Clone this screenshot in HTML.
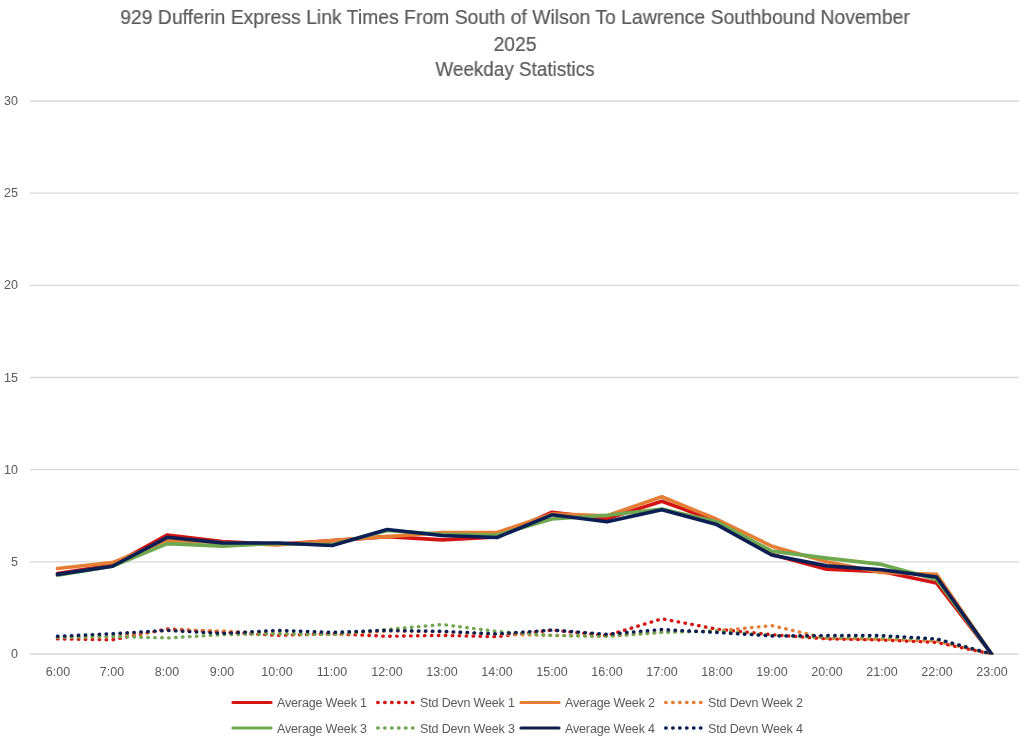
<!DOCTYPE html>
<html><head><meta charset="utf-8"><style>
html,body{margin:0;padding:0;background:#fff;}
body{width:1024px;height:739px;position:relative;overflow:hidden;font-family:"Liberation Sans",sans-serif;color:#595959;}
.t{position:absolute;white-space:nowrap;line-height:1;will-change:transform;}
.title{font-size:20.5px;-webkit-text-stroke:0.2px #595959;left:0;width:1030px;text-align:center;transform-origin:515px 50%;}
.yl{font-size:12.5px;text-align:right;width:18px;left:0;}
.xl{font-size:12.5px;text-align:center;width:60px;}
.lg{font-size:12.5px;letter-spacing:-0.15px;}
</style></head><body>

<svg width="1024" height="739" viewBox="0 0 1024 739" style="position:absolute;left:0;top:0">
<line x1="30.0" y1="654.00" x2="1019.0" y2="654.00" stroke="#D9D9D9" stroke-width="1.3"/>
<line x1="30.0" y1="561.83" x2="1019.0" y2="561.83" stroke="#D9D9D9" stroke-width="1.3"/>
<line x1="30.0" y1="469.67" x2="1019.0" y2="469.67" stroke="#D9D9D9" stroke-width="1.3"/>
<line x1="30.0" y1="377.50" x2="1019.0" y2="377.50" stroke="#D9D9D9" stroke-width="1.3"/>
<line x1="30.0" y1="285.33" x2="1019.0" y2="285.33" stroke="#D9D9D9" stroke-width="1.3"/>
<line x1="30.0" y1="193.17" x2="1019.0" y2="193.17" stroke="#D9D9D9" stroke-width="1.3"/>
<line x1="30.0" y1="101.00" x2="1019.0" y2="101.00" stroke="#D9D9D9" stroke-width="1.3"/>
<defs><clipPath id="pa"><rect x="30.0" y="91.0" width="989.0" height="563.5"/></clipPath></defs><g clip-path="url(#pa)">
<polyline fill="none" stroke="#D41313" stroke-width="3.60" stroke-linecap="round" stroke-linejoin="round" points="57.47,573.45 112.42,564.97 167.36,534.92 222.31,541.56 277.25,544.32 332.19,540.63 387.14,536.58 442.08,539.90 497.03,536.95 551.97,512.25 606.92,518.88 661.86,501.19 716.81,521.28 771.75,554.46 826.69,569.21 881.64,571.60 936.58,583.03 991.53,654.00"/>
<polyline fill="none" stroke="#D41313" stroke-width="3.40" stroke-linecap="round" stroke-linejoin="round" stroke-dasharray="0.5 6.45" points="57.47,638.88 112.42,639.81 167.36,628.93 222.31,631.88 277.25,635.38 332.19,633.72 387.14,636.30 442.08,635.38 497.03,636.67 551.97,630.04 606.92,635.57 661.86,618.79 716.81,629.12 771.75,634.64 826.69,638.88 881.64,639.99 936.58,642.39 991.53,654.00"/>
<polyline fill="none" stroke="#E57D35" stroke-width="3.60" stroke-linecap="round" stroke-linejoin="round" points="57.47,568.47 112.42,562.57 167.36,540.45 222.31,542.48 277.25,545.06 332.19,540.45 387.14,536.58 442.08,532.52 497.03,532.52 551.97,513.91 606.92,515.75 661.86,496.76 716.81,519.25 771.75,546.16 826.69,561.83 881.64,572.52 936.58,574.37 991.53,654.00"/>
<polyline fill="none" stroke="#E57D35" stroke-width="3.40" stroke-linecap="round" stroke-linejoin="round" stroke-dasharray="0.5 6.45" points="57.47,637.41 112.42,636.49 167.36,630.04 222.31,630.96 277.25,633.72 332.19,634.46 387.14,630.96 442.08,631.70 497.03,634.09 551.97,635.38 606.92,636.30 661.86,631.88 716.81,630.96 771.75,625.61 826.69,638.33 881.64,639.25 936.58,641.10 991.53,654.00"/>
<polyline fill="none" stroke="#70A84F" stroke-width="3.60" stroke-linecap="round" stroke-linejoin="round" points="57.47,575.29 112.42,566.26 167.36,543.58 222.31,546.16 277.25,543.40 332.19,544.69 387.14,530.50 442.08,534.18 497.03,535.11 551.97,519.07 606.92,515.20 661.86,509.11 716.81,521.65 771.75,551.14 826.69,558.15 881.64,564.41 936.58,579.53 991.53,654.00"/>
<polyline fill="none" stroke="#70A84F" stroke-width="3.40" stroke-linecap="round" stroke-linejoin="round" stroke-dasharray="0.5 6.45" points="57.47,637.41 112.42,636.49 167.36,637.96 222.31,634.64 277.25,633.72 332.19,634.46 387.14,629.48 442.08,624.51 497.03,631.51 551.97,635.38 606.92,636.30 661.86,632.43 716.81,630.96 771.75,635.57 826.69,637.41 881.64,637.41 936.58,639.25 991.53,654.00"/>
<polyline fill="none" stroke="#0B1F55" stroke-width="3.60" stroke-linecap="round" stroke-linejoin="round" points="57.47,574.37 112.42,566.26 167.36,537.32 222.31,542.85 277.25,543.03 332.19,545.43 387.14,529.58 442.08,535.47 497.03,537.50 551.97,514.83 606.92,521.83 661.86,509.67 716.81,524.60 771.75,555.01 826.69,565.89 881.64,569.76 936.58,576.95 991.53,654.00"/>
<polyline fill="none" stroke="#0B1F55" stroke-width="3.40" stroke-linecap="round" stroke-linejoin="round" stroke-dasharray="0.5 6.45" points="57.47,636.30 112.42,633.72 167.36,630.41 222.31,633.35 277.25,630.41 332.19,632.43 387.14,630.41 442.08,631.33 497.03,633.91 551.97,630.04 606.92,634.28 661.86,629.48 716.81,632.43 771.75,635.94 826.69,635.57 881.64,635.57 936.58,638.88 991.53,654.00"/>
</g>
<line x1="233.0" y1="702.5" x2="271.0" y2="702.5" stroke="#D41313" stroke-width="3.2" stroke-linecap="round"/>
<line x1="377.7" y1="702.5" x2="416.5" y2="702.5" stroke="#D41313" stroke-width="3.4" stroke-linecap="round" stroke-dasharray="0.5 6.45"/>
<line x1="521.0" y1="702.5" x2="559.0" y2="702.5" stroke="#E57D35" stroke-width="3.2" stroke-linecap="round"/>
<line x1="665.7" y1="702.5" x2="704.5" y2="702.5" stroke="#E57D35" stroke-width="3.4" stroke-linecap="round" stroke-dasharray="0.5 6.45"/>
<line x1="233.0" y1="728.0" x2="271.0" y2="728.0" stroke="#70A84F" stroke-width="3.2" stroke-linecap="round"/>
<line x1="377.7" y1="728.0" x2="416.5" y2="728.0" stroke="#70A84F" stroke-width="3.4" stroke-linecap="round" stroke-dasharray="0.5 6.45"/>
<line x1="521.0" y1="728.0" x2="559.0" y2="728.0" stroke="#0B1F55" stroke-width="3.2" stroke-linecap="round"/>
<line x1="665.7" y1="728.0" x2="704.5" y2="728.0" stroke="#0B1F55" stroke-width="3.4" stroke-linecap="round" stroke-dasharray="0.5 6.45"/>
</svg>
<div class="t title" style="top:7.4px;transform:scaleX(0.945)">929 Dufferin Express Link Times From South of Wilson To Lawrence Southbound November</div>
<div class="t title" style="top:33.6px;transform:scaleX(0.94)">2025</div>
<div class="t title" style="top:59.3px;transform:scaleX(0.92)">Weekday Statistics</div>
<div class="t yl" style="top:648.0px">0</div>
<div class="t yl" style="top:555.8px">5</div>
<div class="t yl" style="top:463.7px">10</div>
<div class="t yl" style="top:371.5px">15</div>
<div class="t yl" style="top:279.3px">20</div>
<div class="t yl" style="top:187.2px">25</div>
<div class="t yl" style="top:95.0px">30</div>
<div class="t xl" style="left:27.5px;top:665.8px">6:00</div>
<div class="t xl" style="left:82.4px;top:665.8px">7:00</div>
<div class="t xl" style="left:137.4px;top:665.8px">8:00</div>
<div class="t xl" style="left:192.3px;top:665.8px">9:00</div>
<div class="t xl" style="left:247.2px;top:665.8px">10:00</div>
<div class="t xl" style="left:302.2px;top:665.8px">11:00</div>
<div class="t xl" style="left:357.1px;top:665.8px">12:00</div>
<div class="t xl" style="left:412.1px;top:665.8px">13:00</div>
<div class="t xl" style="left:467.0px;top:665.8px">14:00</div>
<div class="t xl" style="left:522.0px;top:665.8px">15:00</div>
<div class="t xl" style="left:576.9px;top:665.8px">16:00</div>
<div class="t xl" style="left:631.9px;top:665.8px">17:00</div>
<div class="t xl" style="left:686.8px;top:665.8px">18:00</div>
<div class="t xl" style="left:741.8px;top:665.8px">19:00</div>
<div class="t xl" style="left:796.7px;top:665.8px">20:00</div>
<div class="t xl" style="left:851.6px;top:665.8px">21:00</div>
<div class="t xl" style="left:906.6px;top:665.8px">22:00</div>
<div class="t xl" style="left:961.5px;top:665.8px">23:00</div>
<div class="t lg" style="left:276.5px;top:697.0px">Average Week 1</div>
<div class="t lg" style="left:419.5px;top:697.0px">Std Devn Week 1</div>
<div class="t lg" style="left:564.5px;top:697.0px">Average Week 2</div>
<div class="t lg" style="left:707.5px;top:697.0px">Std Devn Week 2</div>
<div class="t lg" style="left:276.5px;top:722.5px">Average Week 3</div>
<div class="t lg" style="left:419.5px;top:722.5px">Std Devn Week 3</div>
<div class="t lg" style="left:564.5px;top:722.5px">Average Week 4</div>
<div class="t lg" style="left:707.5px;top:722.5px">Std Devn Week 4</div>
</body></html>
